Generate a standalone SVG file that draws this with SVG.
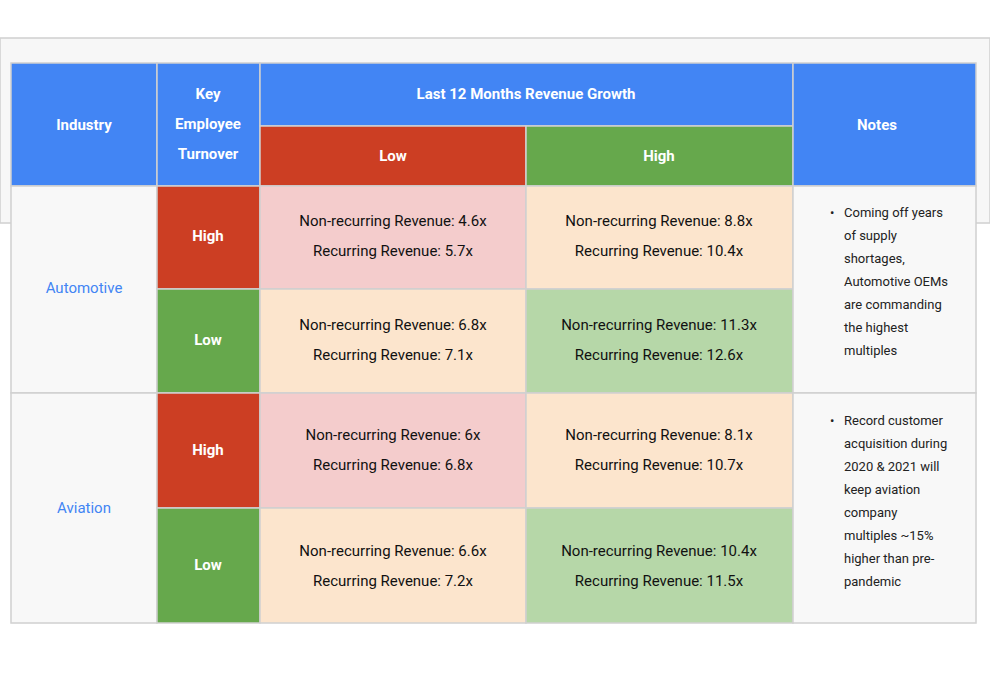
<svg xmlns="http://www.w3.org/2000/svg" width="990" height="700" viewBox="0 0 990 700">
<style>
text{font-family:Roboto,"Liberation Sans",sans-serif}
.h{fill:#fff;font-weight:bold;font-size:15px;text-anchor:middle}
.c{fill:#111;font-size:15px;text-anchor:middle}
.ind{fill:#4285f4;font-size:15px;text-anchor:middle}
.n{fill:#222;font-size:13px}
rect{stroke:#d0d0d0;stroke-width:1.5}
.blue{fill:#4285f4}.red{fill:#cc3e23}.green{fill:#66a84c}
.pink{fill:#f4cccc}.peach{fill:#fce5cd}.lg{fill:#b6d7a8}.gr{fill:#f8f8f8}
</style>
<rect x="0" y="38" width="990" height="185" fill="#f7f7f7" stroke="none"/>
<g id="header">
<rect class="blue" x="11" y="63" width="146" height="123"/><text class="h" x="84" y="130">Industry</text>
<rect class="blue" x="157" y="63" width="103" height="123"/>
<text class="h" x="208" y="99">Key</text><text class="h" x="208" y="129">Employee</text><text class="h" x="208" y="159">Turnover</text>
<rect class="blue" x="260" y="63" width="533" height="63"/><text class="h" x="526" y="99">Last 12 Months Revenue Growth</text>
<rect class="red" x="260" y="126" width="266" height="60"/><text class="h" x="393" y="161">Low</text>
<rect class="green" x="526" y="126" width="267" height="60"/><text class="h" x="659" y="161">High</text>
<rect class="blue" x="793" y="63" width="183" height="123"/><text class="h" x="877" y="130">Notes</text>
</g>
<g id="automotive">
<rect class="gr" x="11" y="186" width="146" height="207"/><text class="ind" x="84" y="293">Automotive</text>
<rect class="red" x="157" y="186" width="103" height="103"/><text class="h" x="208" y="241">High</text>
<rect class="green" x="157" y="289" width="103" height="104"/><text class="h" x="208" y="345">Low</text>
<rect class="pink" x="260" y="186" width="266" height="103"/>
<text class="c" x="393" y="226">Non-recurring Revenue: 4.6x</text><text class="c" x="393" y="256">Recurring Revenue: 5.7x</text>
<rect class="peach" x="526" y="186" width="267" height="103"/>
<text class="c" x="659" y="226">Non-recurring Revenue: 8.8x</text><text class="c" x="659" y="256">Recurring Revenue: 10.4x</text>
<rect class="peach" x="260" y="289" width="266" height="104"/>
<text class="c" x="393" y="330">Non-recurring Revenue: 6.8x</text><text class="c" x="393" y="360">Recurring Revenue: 7.1x</text>
<rect class="lg" x="526" y="289" width="267" height="104"/>
<text class="c" x="659" y="330">Non-recurring Revenue: 11.3x</text><text class="c" x="659" y="360">Recurring Revenue: 12.6x</text>
<rect class="gr" x="793" y="186" width="183" height="207"/>
<text class="n" x="830" y="217">•</text>
<text class="n" x="844" y="217">Coming off years</text><text class="n" x="844" y="240">of supply</text><text class="n" x="844" y="263">shortages,</text><text class="n" x="844" y="286">Automotive OEMs</text><text class="n" x="844" y="309">are commanding</text><text class="n" x="844" y="332">the highest</text><text class="n" x="844" y="355">multiples</text>
</g>
<g id="aviation">
<rect class="gr" x="11" y="393" width="146" height="230"/><text class="ind" x="84" y="513">Aviation</text>
<rect class="red" x="157" y="393" width="103" height="115"/><text class="h" x="208" y="455">High</text>
<rect class="green" x="157" y="508" width="103" height="115"/><text class="h" x="208" y="570">Low</text>
<rect class="pink" x="260" y="393" width="266" height="115"/>
<text class="c" x="393" y="440">Non-recurring Revenue: 6x</text><text class="c" x="393" y="470">Recurring Revenue: 6.8x</text>
<rect class="peach" x="526" y="393" width="267" height="115"/>
<text class="c" x="659" y="440">Non-recurring Revenue: 8.1x</text><text class="c" x="659" y="470">Recurring Revenue: 10.7x</text>
<rect class="peach" x="260" y="508" width="266" height="115"/>
<text class="c" x="393" y="556">Non-recurring Revenue: 6.6x</text><text class="c" x="393" y="586">Recurring Revenue: 7.2x</text>
<rect class="lg" x="526" y="508" width="267" height="115"/>
<text class="c" x="659" y="556">Non-recurring Revenue: 10.4x</text><text class="c" x="659" y="586">Recurring Revenue: 11.5x</text>
<rect class="gr" x="793" y="393" width="183" height="230"/>
<text class="n" x="830" y="425">•</text>
<text class="n" x="844" y="425">Record customer</text><text class="n" x="844" y="448">acquisition during</text><text class="n" x="844" y="471">2020 &amp; 2021 will</text><text class="n" x="844" y="494">keep aviation</text><text class="n" x="844" y="517">company</text><text class="n" x="844" y="540">multiples ~15%</text><text class="n" x="844" y="563">higher than pre-</text><text class="n" x="844" y="586">pandemic</text>
</g>
<g id="connectors"/>
</svg>
